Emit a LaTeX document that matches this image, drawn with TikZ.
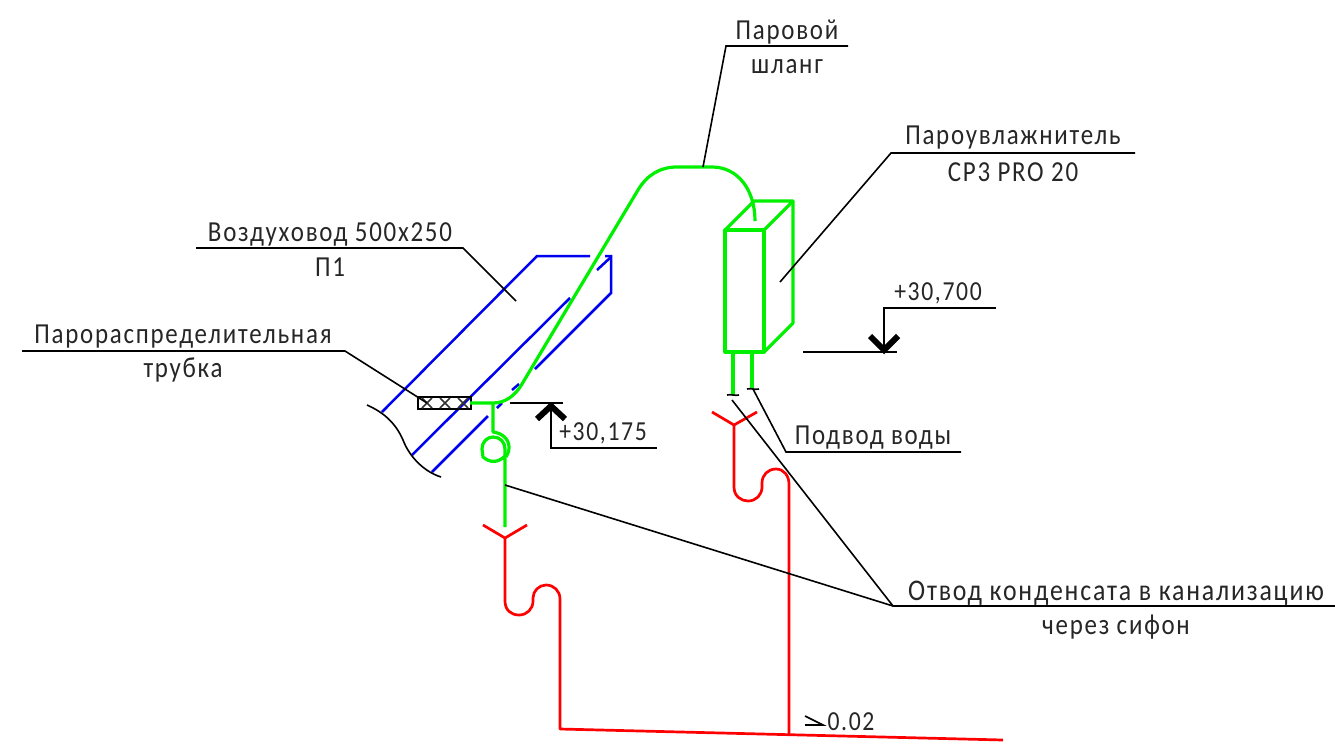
\documentclass[tikz,border=0pt]{standalone}
\usepackage{fontspec}
\setmainfont[LetterSpace=6,FakeStretch=0.86]{Carlito}
\usetikzlibrary{calc}
\definecolor{pipeGreen}{HTML}{00F000}
\definecolor{drainRed}{HTML}{FF0000}
\definecolor{ductBlue}{HTML}{0000F0}

\begin{document}
\begin{tikzpicture}[
    x=1pt,
    y=-1pt,
    steam/.style={draw=pipeGreen, line width=3.2pt, line join=round},
    drain/.style={draw=drainRed, line width=2.7pt, line join=round},
    duct/.style={draw=ductBlue, line width=2.5pt},
    leader/.style={draw=black, line width=1.6pt},
    chevron/.style={draw=black, line width=6pt},
    caption/.style={font=\fontsize{29}{33}\selectfont, inner sep=0pt, text=black!85},
    captionwide/.style={caption, font=\fontsize{30}{34}\selectfont},
    levelmark/.style={caption, font=\fontsize{27.5}{32}\selectfont}
]
\useasboundingbox (0,0) rectangle (1335,745);

% -------------------- Anchor points -------------------------
\coordinate (hoseShelfL) at (726,46);
\coordinate (hoseShelfR) at (848,46);
\coordinate (hoseTip) at (703,167);
\coordinate (humShelfL) at (891,153);
\coordinate (humShelfR) at (1135,153);
\coordinate (humTip) at (780,282);
\coordinate (ductShelfL) at (196,248);
\coordinate (ductShelfR) at (463,248);
\coordinate (ductTip) at (516,301);
\coordinate (tubeShelfL) at (22,351);
\coordinate (tubeShelfR) at (345,351);
\coordinate (tubeTip) at (427,403);
\coordinate (waterShelfL) at (786,452);
\coordinate (waterShelfR) at (961,452);
\coordinate (waterTip) at (753,389);
\coordinate (drainShelfL) at (893,606);
\coordinate (drainShelfR) at (1335,606);
\coordinate (drainTipA) at (505,485);
\coordinate (drainTipB) at (732,400);
\coordinate (steamStart) at (470,403);
\coordinate (dropTop) at (493,403);
\coordinate (boxA) at (725,230);
\coordinate (boxB) at (764,230);
\coordinate (boxC) at (764,352);
\coordinate (boxD) at (725,352);
\coordinate (boxE) at (754,201);
\coordinate (boxF) at (793,201);
\coordinate (boxG) at (793,323);
\coordinate (floorL) at (560,729);
\coordinate (floorR) at (1003,740);
\coordinate (floorM) at (789,735);

% -------------------- Duct ----------------------------------
\draw[duct] (382,412) -- (537,256) -- (590,256);
\draw[duct] (605,256) -- (611,256) -- (611,293) -- (535,369);
\draw[duct] (597,270) -- (611,257);
\draw[duct] (412,455) -- (570,298);
\draw[duct] (432,472) -- (488,416);
\draw[duct] (497,408) -- (502,403);
\draw[duct] (512,390) -- (519,384);
\draw[leader] (367,405) .. controls (385,413) and (396,424) .. (403,440)
    .. controls (410,458) and (425,472) .. (441,477);

% -------------------- Distribution tube ---------------------
\node[draw=black, line width=1.4pt, fill=none, minimum width=53pt, minimum height=12pt, inner sep=0pt] (tube) at (444.5,403) {};
\foreach \cx in {427,445,463} {
  \draw[black!80, line width=1.5pt] (\cx-5,398) -- (\cx+5,408) (\cx-5,408) -- (\cx+5,398);
}

% -------------------- Steam hose ----------------------------
\draw[steam] (steamStart) -- (dropTop) .. controls (505,403) and (515,396) .. (522,384)
    -- (638,190) .. controls (647,175) and (660,167) .. (677,167) -- (712,167)
    .. controls (738,167) and (755,190) .. (755,221);
\draw[steam] (dropTop) -- (493,432) .. controls (502,433) and (509,439) .. (509,447)
    .. controls (509,451) and (508,454) .. (506,457);
\draw[steam] (505,527) -- (505,449) .. controls (505,442) and (500,437) .. (493,437)
    .. controls (487,437) and (482,442) .. (482,449) -- (483,457)
    .. controls (490,463) and (498,463) .. (505,456);

% -------------------- Humidifier ----------------------------
\draw[steam] (boxA) -- (boxB) -- (boxC) -- (boxD) -- cycle;
\draw[steam] (boxA) -- (boxE) -- (boxF) -- (boxB);
\draw[steam] (boxF) -- (boxG) -- (boxC);
\draw[steam] (733,352) -- (733,395);
\draw[steam] (752,352) -- (752,388);
\draw[leader] (727,395) .. controls (731,394) and (735,396) .. (739,395);
\draw[leader] (747,389) .. controls (751,388) and (755,390) .. (759,389);

% -------------------- Drains --------------------------------
\draw[drain] (712,412) -- (734,425) -- (757,412);
\draw[drain] (734,425) -- (734,487) .. controls (734,496) and (741,501) .. (748,501)
    .. controls (756,501) and (762,495) .. (762,487) -- (762,483)
    .. controls (762,475) and (768,469) .. (776,469)
    .. controls (784,469) and (789,476) .. (789,484) -- (floorM);
\draw[drain] (483,525) -- (505,538) -- (527,525);
\draw[drain] (505,538) -- (505,601) .. controls (505,610) and (511,615) .. (519,615)
    .. controls (527,615) and (533,609) .. (533,601) -- (533,598)
    .. controls (533,591) and (539,585) .. (546,585)
    .. controls (554,585) and (560,591) .. (560,599) -- (floorL) -- (floorR);

% -------------------- Leaders -------------------------------
\draw[leader] (hoseTip) -- (hoseShelfL) -- (hoseShelfR);
\draw[leader] (humTip) -- (humShelfL) -- (humShelfR);
\draw[leader] (ductTip) -- (ductShelfR) -- (ductShelfL);
\draw[leader] (tubeTip) -- (tubeShelfR) -- (tubeShelfL);
\draw[leader] (waterTip) -- (waterShelfL) -- (waterShelfR);
\draw[leader] (drainTipA) -- (drainShelfL) -- (drainShelfR);
\draw[leader] (drainTipB) -- (drainShelfL);

% -------------------- Level marks ---------------------------
\draw[leader] (510,403) -- (563,403);
\draw[leader] (551,403) -- (551,448) -- (657,448);
\draw[chevron] (537,419) -- (551,406) -- (565,419);
\draw[leader] (803,352) -- (897,352);
\draw[leader] (884,352) -- (884,308) -- (996,308);
\draw[chevron] (870,336) -- (884,350) -- (898,336);

% -------------------- Slope mark ----------------------------
\draw[leader] (805,716) -- (823,725) -- (805,725);

% -------------------- Captions ------------------------------
\node[caption] (hoseA) at (787,32) {Паровой};
\node[caption] (hoseB) at (787,67) {шланг};
\node[caption] (humA) at (1013,138) {Пароувлажнитель};
\node[caption] (humB) at (1013,172) {CP3 PRO 20};
\node[caption] (ductA) at (330,234) {Воздуховод 500х250};
\node[caption] (ductB) at (330,267) {П1};
\node[caption] (tubeA) at (183,337) {Парораспределительная};
\node[caption] (tubeB) at (183,370) {трубка};
\node[caption] (water) at (873,438) {Подвод воды};
\node[captionwide] (drainA) at (1116,593) {Отвод конденсата в канализацию};
\node[caption] (drainB) at (1116,627) {через сифон};
\node[levelmark] (levelA) at (938,293) {+30,700};
\node[levelmark] (levelB) at (603,433) {+30,175};
\node[levelmark] (slope) at (851,722) {0.02};

\end{tikzpicture}
\end{document}
